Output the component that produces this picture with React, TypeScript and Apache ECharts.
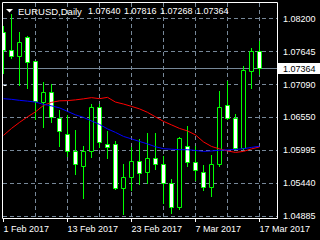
import React, { useEffect, useRef } from 'react';
import * as echarts from 'echarts';

const symbolName = 'EURUSD';
const timeframe = 'Daily';

const dates = [
  '1 Feb 2017', '2 Feb 2017', '3 Feb 2017', '6 Feb 2017', '7 Feb 2017', '8 Feb 2017', '9 Feb 2017', '10 Feb 2017',
  '13 Feb 2017', '14 Feb 2017', '15 Feb 2017', '16 Feb 2017', '17 Feb 2017', '20 Feb 2017', '21 Feb 2017', '22 Feb 2017',
  '23 Feb 2017', '24 Feb 2017', '27 Feb 2017', '28 Feb 2017', '1 Mar 2017', '2 Mar 2017', '3 Mar 2017', '6 Mar 2017',
  '7 Mar 2017', '8 Mar 2017', '9 Mar 2017', '10 Mar 2017', '13 Mar 2017', '14 Mar 2017', '15 Mar 2017', '16 Mar 2017',
  '17 Mar 2017',
];

const opens = [1.07965, 1.07668, 1.07556, 1.07886, 1.07484, 1.06801, 1.06959, 1.06533, 1.06255, 1.05975, 1.05728, 1.05975, 1.06708, 1.06087, 1.06087, 1.05349, 1.05544, 1.05802, 1.05617, 1.05852, 1.05752, 1.05443, 1.05041, 1.06064, 1.05785, 1.05628, 1.05366, 1.05752, 1.06741, 1.06533, 1.0602, 1.07305, 1.0764];
const highs = [1.08071, 1.08272, 1.0797, 1.07903, 1.0749, 1.07137, 1.07098, 1.06662, 1.06578, 1.06327, 1.06064, 1.06775, 1.06763, 1.0631, 1.06147, 1.05757, 1.06047, 1.06176, 1.06288, 1.06288, 1.05891, 1.05505, 1.06214, 1.06394, 1.06064, 1.0574, 1.05908, 1.06981, 1.07154, 1.06607, 1.074, 1.07707, 1.07816];
const lows = [1.07288, 1.07539, 1.07093, 1.07043, 1.06523, 1.06377, 1.06466, 1.06064, 1.05896, 1.05601, 1.05192, 1.05879, 1.06047, 1.05862, 1.05337, 1.0493, 1.05321, 1.05433, 1.05443, 1.05685, 1.05108, 1.04947, 1.05014, 1.05728, 1.05488, 1.05332, 1.05225, 1.05723, 1.06511, 1.06008, 1.06008, 1.07036, 1.07268];
const closes = [1.07657, 1.07556, 1.07803, 1.07472, 1.06808, 1.06964, 1.0654, 1.06315, 1.05975, 1.05752, 1.05975, 1.06708, 1.06121, 1.06047, 1.05349, 1.05544, 1.05802, 1.05601, 1.05852, 1.05752, 1.05443, 1.05041, 1.06198, 1.05785, 1.05656, 1.05376, 1.05752, 1.06708, 1.06523, 1.0602, 1.07333, 1.0764, 1.07364];

const maRed = [1.06243, 1.0636, 1.06461, 1.06553, 1.06637, 1.06746, 1.06796, 1.06822, 1.06825, 1.06838, 1.06855, 1.06875, 1.06858, 1.0688, 1.06801, 1.06768, 1.06729, 1.06687, 1.06629, 1.06553, 1.06478, 1.06419, 1.0636, 1.06318, 1.06251, 1.06134, 1.06058, 1.06017, 1.05983, 1.05958, 1.05975, 1.06017, 1.0605];
const maBlue = [1.06858, 1.06847, 1.0683, 1.06817, 1.06801, 1.06763, 1.06738, 1.06704, 1.06645, 1.06587, 1.06545, 1.06486, 1.06427, 1.06352, 1.06293, 1.06226, 1.06184, 1.06142, 1.061, 1.06053, 1.0602, 1.06012, 1.06003, 1.06003, 1.05991, 1.05975, 1.05983, 1.05995, 1.06, 1.06008, 1.0602, 1.06042, 1.06062];

const priceTicks = [1.082, 1.07645, 1.0709, 1.0655, 1.05995, 1.0544, 1.04885];
const dateTicks = [0, 8, 16, 24, 32];
const gridBars = [4, 8, 12, 16, 20, 24, 28, 32];

const FONT = 'Liberation Sans';
const GREEN = '#00ff00';
const GRID = '#778899';

export default function App() {
  const ref = useRef<HTMLDivElement>(null);
  useEffect(() => {
    if (!ref.current) return;
    const chart = echarts.init(ref.current, undefined, { renderer: 'svg' });
    const last = closes.length - 1;
    const candleData = opens.map((o, i) => [i, o, closes[i], lows[i], highs[i]]);
    const xMin = -0.0625;
    const xMax = xMin + 274 / 8;

    const titleNums = [opens[last], highs[last], lows[last], closes[last]].map((v) => v.toFixed(5));
    const numX = [88, 124, 160, 196];

    chart.setOption({
      animation: false,
      backgroundColor: '#000',
      grid: { left: 3, right: 43, top: 3, bottom: 21, show: false },
      xAxis: {
        type: 'value',
        min: xMin,
        max: xMax,
        axisLine: { show: false },
        splitLine: { show: false },
        axisTick: { show: true, customValues: dateTicks, length: 3, lineStyle: { color: '#fff' } },
        axisLabel: {
          customValues: dateTicks,
          formatter: (v: number) => dates[Math.round(v)] ?? '',
          color: '#fff',
          fontFamily: FONT,
          fontSize: 9,
          align: 'left',
          margin: 5,
        },
      },
      yAxis: {
        type: 'value',
        position: 'right',
        min: 1.04843,
        max: 1.0846,
        axisLine: { show: false },
        splitLine: { show: false },
        axisTick: { show: true, customValues: priceTicks, length: 3, lineStyle: { color: '#fff' } },
        axisLabel: {
          customValues: priceTicks,
          formatter: (v: number) => v.toFixed(5),
          color: '#fff',
          fontFamily: FONT,
          fontSize: 9,
          margin: 6,
        },
      },
      graphic: [
        { type: 'rect', z: 100, shape: { x: 2.5, y: 2.5, width: 275, height: 216 }, style: { fill: 'none', stroke: '#fff', lineWidth: 1 } },
        { type: 'polygon', z: 100, shape: { points: [[6, 9], [13, 9], [9.5, 12.5]] }, style: { fill: '#fff' } },
        { type: 'text', z: 100, x: 18, y: 11, style: { text: symbolName + ',' + timeframe, fill: '#fff', font: `9.5px "${FONT}"`, verticalAlign: 'middle' } },
        ...titleNums.map((t, k) => ({ type: 'text', z: 100, x: numX[k], y: 11, style: { text: t, fill: '#fff', font: `9px "${FONT}"`, verticalAlign: 'middle' } })),
      ],
      series: [
        {
          type: 'custom',
          name: 'hgrid',
          z: 1,
          silent: true,
          clip: false,
          encode: { x: 0, y: 1 },
          data: priceTicks.map((v) => [0, v]),
          renderItem: (params: any, api: any) => {
            const cs = params.coordSys;
            const y = Math.round(api.coord([0, api.value(1)])[1] - 0.5) + 0.5;
            return { type: 'line', shape: { x1: cs.x, y1: y, x2: cs.x + cs.width, y2: y }, style: { stroke: GRID, lineWidth: 1, lineDash: [4, 3] } };
          },
        },
        {
          type: 'custom',
          name: 'vgrid',
          z: 1,
          silent: true,
          clip: false,
          encode: { x: 0, y: 1 },
          data: gridBars.map((b) => [b, 1.06]),
          renderItem: (params: any, api: any) => {
            const cs = params.coordSys;
            const x = Math.round(api.coord([api.value(0), 1.06])[0] - 0.5) + 0.5;
            return { type: 'line', shape: { x1: x, y1: cs.y, x2: x, y2: cs.y + cs.height }, style: { stroke: GRID, lineWidth: 1, lineDash: [4, 3] } };
          },
        },
        {
          type: 'custom',
          name: 'priceLine',
          z: 2,
          silent: true,
          clip: false,
          encode: { x: 0, y: 1 },
          data: [[last, closes[last]]],
          renderItem: (params: any, api: any) => {
            const cs = params.coordSys;
            const v = api.value(1);
            const y = Math.round(api.coord([0, v])[1] - 0.5) + 0.5;
            return {
              type: 'group',
              children: [
                { type: 'line', shape: { x1: cs.x, y1: y, x2: cs.x + cs.width, y2: y }, style: { stroke: GRID, lineWidth: 1 } },
                { type: 'rect', shape: { x: 278, y: y - 5.5, width: 42, height: 11 }, style: { fill: '#fff' } },
                { type: 'text', x: 283, y: y + 0.5, style: { text: v.toFixed(5), fill: '#000', font: `9px "${FONT}"`, verticalAlign: 'middle' } },
              ],
            };
          },
        },
        {
          type: 'custom',
          name: 'candles',
          z: 3,
          clip: true,
          encode: { x: 0, y: [1, 2, 3, 4] },
          data: candleData,
          renderItem: (params: any, api: any) => {
            const i = api.value(0);
            const o = api.value(1);
            const c = api.value(2);
            const l = api.value(3);
            const h = api.value(4);
            const xo = api.coord([i, o]);
            const cx = Math.round(xo[0] - 0.5) + 0.5;
            const yo = xo[1];
            const yc = api.coord([i, c])[1];
            const yl = api.coord([i, l])[1];
            const yh = api.coord([i, h])[1];
            const top = Math.round(Math.min(yo, yc) - 0.5) + 0.5;
            let bot = Math.round(Math.max(yo, yc) - 0.5) + 0.5;
            if (bot - top < 2) bot = top + 2;
            return {
              type: 'group',
              children: [
                { type: 'line', shape: { x1: cx, y1: Math.round(yh), x2: cx, y2: Math.round(yl) + 1 }, style: { stroke: GREEN, lineWidth: 1 } },
                { type: 'rect', shape: { x: cx - 2, y: top, width: 4, height: bot - top }, style: { fill: c < o ? '#ffffff' : '#000000', stroke: GREEN, lineWidth: 1 } },
              ],
            };
          },
        },
        {
          type: 'line',
          name: 'maRed',
          z: 4,
          silent: true,
          symbol: 'none',
          clip: true,
          data: maRed.map((v, i) => [i, v]),
          lineStyle: { color: '#ff0000', width: 1 },
        },
        {
          type: 'line',
          name: 'maBlue',
          z: 4,
          silent: true,
          symbol: 'none',
          clip: true,
          data: maBlue.map((v, i) => [i, v]),
          lineStyle: { color: '#0000ff', width: 1 },
        },
      ],
    });
    return () => chart.dispose();
  }, []);
  return <div ref={ref} style={{ position: 'fixed', left: 0, top: 0, width: 320, height: 240, background: '#000' }} />;
}
